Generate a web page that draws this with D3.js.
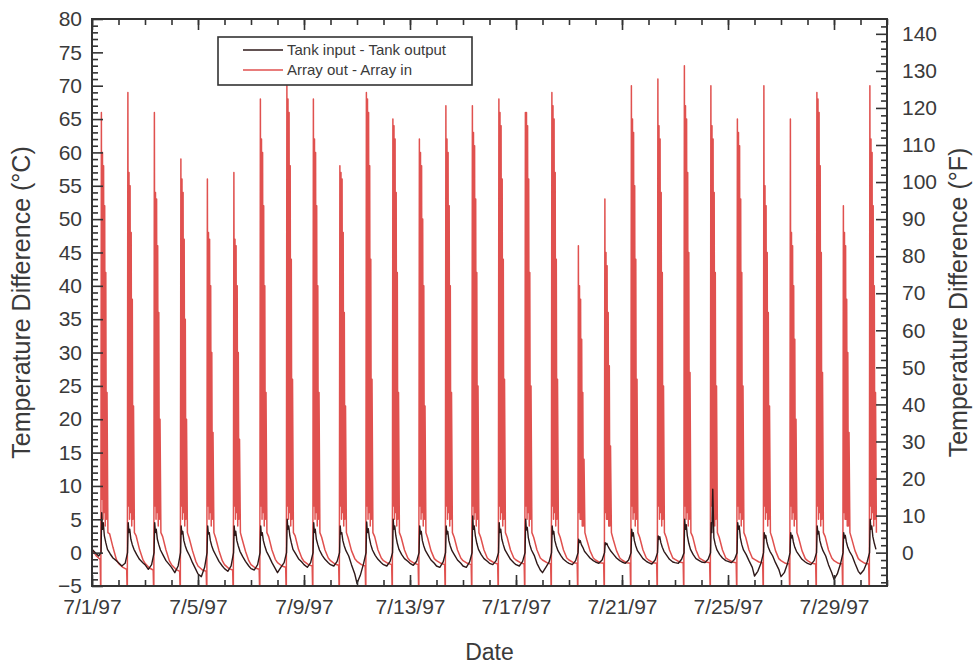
<!DOCTYPE html>
<html><head><meta charset="utf-8">
<script src="https://cdn.jsdelivr.net/npm/d3@7"></script>
<style>
body{margin:0;background:#fff}
svg{display:block}
text{font-family:"Liberation Sans",Arial,Helvetica,sans-serif}
</style>
</head><body>
<svg id="chart" width="976" height="664"></svg>
<script>
// ---------------- DATA ----------------
const dayDates = ["1997-07-01","1997-07-02","1997-07-03","1997-07-04","1997-07-05","1997-07-06","1997-07-07","1997-07-08","1997-07-09","1997-07-10",
  "1997-07-11","1997-07-12","1997-07-13","1997-07-14","1997-07-15","1997-07-16","1997-07-17","1997-07-18","1997-07-19","1997-07-20",
  "1997-07-21","1997-07-22","1997-07-23","1997-07-24","1997-07-25","1997-07-26","1997-07-27","1997-07-28","1997-07-29","1997-07-30"];

const dateTickLabels = ["7/1/97","7/5/97","7/9/97","7/13/97","7/17/97","7/21/97","7/25/97","7/29/97"];
const celsiusTicks = [-5,0,5,10,15,20,25,30,35,40,45,50,55,60,65,70,75,80];
const fahrenheitTicks = [0,10,20,30,40,50,60,70,80,90,100,110,120,130,140];
const seriesNames = ["Tank input - Tank output","Array out - Array in"];

// hour-of-day of each reading in a daily row
const arrayHours = [0, 4, 7.4, 8.0, 8.5, 9.0, 9.5, 10.0, 10.5, 11.0, 11.5, 12.0, 12.5, 13.0, 13.6, 14.4, 16, 19, 22];
// Array out - Array in (°C), one row per day
const arrayDiff = [
  [0.5,-0.5,-1.0,-7,66,8,60,5,58,6,52,4,42,5,24,3,2.8,0.8,-1.0],
  [-1.6,-2.2,-2.5,-7,69,7,57,5,55,6,48,4,38,5,22,3,2.5,0.5,-1.0],
  [-1.6,-2.3,-2.6,-7,66,7,54,5,53,6,46,4,36,5,20,3,2.4,0.4,-1.2],
  [-1.8,-2.5,-2.8,-7,59,7,56,5,54,6,47,4,35,5,20,3,2.2,0.3,-1.3],
  [-2.0,-2.6,-2.8,-7,56,7,48,5,47,6,40,4,30,5,18,3,2.2,0.3,-1.2],
  [-1.8,-2.4,-2.6,-7,57,7,47,5,46,6,40,4,30,5,17,3,2.0,0.2,-1.2],
  [-1.8,-2.3,-2.5,-7,68,7,62,5,60,6,52,4,40,5,24,3,2.4,0.4,-1.0],
  [-1.5,-2.0,-2.2,-7,70,7,68,5,66,6,58,4,44,5,26,3,2.5,0.5,-0.8],
  [-1.3,-1.8,-2.0,-7,68,7,62,5,60,6,52,4,40,5,24,3,2.3,0.4,-0.8],
  [-1.2,-1.7,-1.9,-7,58,7,57,5,56,6,48,4,36,5,22,3,2.2,0.3,-0.9],
  [-1.3,-1.8,-2.0,-7,69,7,68,5,66,6,58,4,44,5,26,3,2.4,0.4,-0.8],
  [-1.2,-1.6,-1.8,-7,65,7,64,5,62,6,54,4,42,5,24,3,2.3,0.4,-0.8],
  [-1.2,-1.6,-1.8,-7,62,7,60,5,58,6,50,4,40,5,22,3,2.2,0.3,-0.9],
  [-1.2,-1.6,-1.8,-7,67,7,62,5,60,6,52,4,40,5,24,3,2.3,0.4,-0.8],
  [-1.2,-1.6,-1.8,-7,67,7,63,5,61,6,53,4,42,5,25,3,2.3,0.4,-0.8],
  [-1.1,-1.5,-1.7,-7,68,7,66,5,64,6,56,4,44,5,26,3,2.3,0.4,-0.8],
  [-1.1,-1.5,-1.7,-7,66,7,66,5,64,6,56,4,42,5,25,3,2.3,0.4,-0.8],
  [-1.1,-1.5,-1.7,-7,69,7,67,5,65,6,57,4,44,5,26,3,2.3,0.4,-0.8],
  [-1.1,-1.5,-1.6,-7,46,6,40,5,38,5,32,4,24,4,14,3,2.0,0.3,-0.8],
  [-1.1,-1.5,-1.6,-7,53,6,45,5,43,5,36,4,28,4,16,3,2.0,0.3,-0.8],
  [-1.1,-1.5,-1.6,-7,70,7,65,5,63,6,55,4,44,5,26,3,2.3,0.4,-0.8],
  [-1.1,-1.5,-1.6,-7,71,7,64,5,62,6,54,4,42,5,25,3,2.3,0.4,-0.8],
  [-1.0,-1.4,-1.5,-7,73,7,67,5,65,6,57,4,45,5,27,3,2.4,0.4,-0.8],
  [-1.0,-1.4,-1.5,-7,70,7,64,5,62,6,54,4,42,5,25,3,2.3,0.4,-0.8],
  [-1.0,-1.4,-1.5,-7,65,7,63,5,61,6,53,4,42,5,25,3,2.3,0.4,-0.8],
  [-1.0,-1.4,-1.5,-7,70,7,55,5,52,6,45,4,36,5,22,3,2.2,0.3,-0.9],
  [-1.2,-1.6,-1.7,-7,65,7,48,5,46,6,40,4,32,5,20,3,2.2,0.3,-0.9],
  [-1.2,-1.6,-1.7,-7,69,7,68,5,66,6,58,4,45,5,27,3,2.4,0.4,-0.8],
  [-1.2,-1.6,-1.7,-7,52,6,48,5,46,5,38,4,30,4,18,3,2.1,0.3,-0.9],
  [-1.2,-1.6,-1.7,-7,70,7,62,5,60,6,52,4,40,5,24,3]
];

const tankHours = [0, 3, 6, 8.2, 8.8, 9.4, 10.2, 11.2, 12.5, 14, 16.5, 19, 22];
// Tank input - Tank output (°C), one row per day
const tankDiff = [
  [0.5,0,-0.5,0,6,3.5,4.5,2.5,1.5,0.5,-0.2,-0.8,-1.2],
  [-1.5,-2.0,-1.6,0,4.5,3,3.5,2,1.2,0.5,-0.3,-1.0,-1.5],
  [-1.8,-2.5,-1.8,0,4.5,3,3.5,2,1.2,0.4,-0.4,-1.2,-1.8],
  [-2.2,-3.0,-2.0,0,4,2.8,3.2,1.8,1.0,0.3,-0.5,-1.5,-2.5],
  [-3.2,-3.6,-2.2,0,4,2.8,3.0,1.8,1.0,0.3,-0.5,-1.3,-2.0],
  [-2.4,-2.8,-2.0,0,4,2.6,3.2,1.8,1.0,0.2,-0.6,-1.3,-2.0],
  [-2.4,-2.6,-1.8,0,4,2.6,3.0,1.8,1.0,0.2,-0.6,-1.5,-2.4],
  [-3.0,-2.2,-1.5,0,5,3.5,4.0,2.5,1.5,0.5,-0.2,-0.9,-1.4],
  [-1.8,-2.2,-1.5,0,4.5,3.0,3.5,2.0,1.2,0.4,-0.4,-1.0,-1.5],
  [-1.8,-2.0,-1.3,0,4,2.8,3.0,1.8,1.0,0.3,-0.5,-1.8,-3.2],
  [-4.6,-3.4,-1.6,0,4.6,3.0,3.6,2.2,1.2,0.4,-0.4,-1.0,-1.5],
  [-1.8,-2.0,-1.3,0,5,3.5,4.0,2.5,1.4,0.5,-0.3,-0.9,-1.3],
  [-1.6,-1.9,-1.3,0,4,2.8,3.2,1.8,1.0,0.3,-0.4,-1.1,-1.6],
  [-2.0,-2.2,-1.4,0,4,2.8,3.2,1.8,1.0,0.3,-0.4,-1.1,-1.6],
  [-2.0,-2.2,-1.4,0,5.5,3.5,4.0,2.5,1.4,0.5,-0.3,-0.9,-1.3],
  [-1.6,-1.8,-1.2,0,4.5,3.0,3.5,2.0,1.2,0.4,-0.3,-1.0,-1.5],
  [-1.8,-2.0,-1.3,0,5,3.4,3.8,2.2,1.2,0.4,-0.4,-1.6,-2.6],
  [-3.0,-2.2,-1.4,0,4,2.8,3.2,1.8,1.0,0.3,-0.4,-1.0,-1.4],
  [-1.6,-1.8,-1.2,0,2,1.5,1.8,1.2,0.8,0.2,-0.3,-0.8,-1.2],
  [-1.4,-1.6,-1.1,0,1.5,1.2,1.4,1.0,0.6,0.2,-0.3,-0.8,-1.2],
  [-1.4,-1.6,-1.1,0,3.5,2.5,3.0,1.8,1.0,0.3,-0.3,-0.9,-1.3],
  [-1.5,-1.7,-1.1,0,2.5,2.0,2.4,1.5,0.8,0.2,-0.4,-1.0,-1.4],
  [-1.5,-1.6,-1.0,0,5,3.5,4.2,2.5,1.4,0.5,-0.3,-0.9,-1.2],
  [-1.4,-1.5,-1.0,0,4.5,3.0,9.5,2.2,1.2,0.4,-0.3,-0.8,-1.2],
  [-1.3,-1.5,-1.0,0,4.5,3.5,4.0,2.2,1.2,0.4,-0.3,-1.2,-2.2],
  [-3.5,-2.8,-1.5,0,3,2.2,2.6,1.6,0.8,0.2,-0.5,-1.5,-2.5],
  [-3.6,-3.0,-1.6,0,3,2.2,2.6,1.6,0.8,0.2,-0.4,-1.0,-1.4],
  [-1.6,-1.8,-1.2,0,4,2.8,3.2,1.8,1.0,0.3,-0.5,-1.8,-3.0],
  [-4.0,-3.2,-1.6,0,3,2.2,2.6,1.6,0.8,0.2,-0.5,-1.6,-2.8],
  [-3.2,-2.6,-1.4,0,5,3.5,4.0,2.4,1.4,0.5]
];

// ---------------- CHART ----------------
const L = 92, R = 887, T = 19, B = 586;
const svg = d3.select("#chart");
const parseDay = d3.timeParse("%Y-%m-%d");
const HOUR = 3600 * 1000;

function buildSeries(hours, rows) {
  const pts = [];
  rows.forEach((row, i) => {
    const base = parseDay(dayDates[i]).getTime();
    row.forEach((v, j) => pts.push({t: new Date(base + hours[j] * HOUR), v: v}));
  });
  return pts;
}
const arraySeries = buildSeries(arrayHours, arrayDiff);
const tankSeries = buildSeries(tankHours, tankDiff);

const x = d3.scaleTime().domain([new Date(1997, 6, 1), new Date(1997, 6, 31)]).range([L, R]);
const yC = d3.scaleLinear().domain([-5, 80]).range([B, T]);
const yF = d3.scaleLinear().domain([-9, 144]).range([B, T]);

svg.append("defs").append("clipPath").attr("id", "plotClip")
  .append("rect").attr("x", L).attr("y", T).attr("width", R - L).attr("height", B - T);

const line = d3.line().x(d => x(d.t)).y(d => yC(d.v));
const plot = svg.append("g").attr("clip-path", "url(#plotClip)");
const colorArray = "#e0514f", colorTank = "#2e1818";
plot.append("path").datum(arraySeries).attr("d", line)
  .attr("fill", "none").attr("stroke", colorArray).attr("stroke-width", 1.5).attr("stroke-linejoin", "round");
plot.append("path").datum(tankSeries).attr("d", line)
  .attr("fill", "none").attr("stroke", colorTank).attr("stroke-width", 1.4).attr("stroke-linejoin", "round");

// axes
const axisColor = "#333";
const labelColor = "#3a3a3a";
function styleAxis(g) {
  g.select(".domain").remove();
  g.selectAll(".tick line").attr("stroke", axisColor).attr("stroke-width", 1.6);
  g.selectAll(".tick text").attr("fill", labelColor).attr("font-size", 21)
    .attr("font-family", '"Liberation Sans",Arial,sans-serif');
}
const minorC = d3.range(-5, 81, 1).filter(v => v % 5 !== 0);
const minorF = d3.range(-8, 143, 2).filter(v => v % 10 !== 0);
const allDays = d3.range(0, 31).map(i => new Date(1997, 6, 1 + i));
const majorDates = dateTickLabels.map(s => { const p = s.split("/"); return new Date(1900 + +p[2], +p[0] - 1, +p[1]); });

svg.append("g").attr("transform", `translate(${L},0)`)
  .call(d3.axisLeft(yC).tickValues(minorC).tickSize(-6).tickFormat("")).call(styleAxis);
svg.append("g").attr("transform", `translate(${L},0)`)
  .call(d3.axisLeft(yC).tickValues(celsiusTicks).tickSize(-11).tickPadding(10).tickFormat(d3.format("d"))).call(styleAxis);

svg.append("g").attr("transform", `translate(${R},0)`)
  .call(d3.axisRight(yF).tickValues(minorF).tickSize(-6).tickFormat("")).call(styleAxis);
svg.append("g").attr("transform", `translate(${R},0)`)
  .call(d3.axisRight(yF).tickValues(fahrenheitTicks).tickSize(-11).tickPadding(15).tickFormat(d3.format("d"))).call(styleAxis);

svg.append("g").attr("transform", `translate(0,${B})`)
  .call(d3.axisBottom(x).tickValues(allDays).tickSize(-6).tickFormat("")).call(styleAxis);
svg.append("g").attr("transform", `translate(0,${B})`)
  .call(d3.axisBottom(x).tickValues(majorDates).tickSize(-11).tickPadding(13)
    .tickFormat((d, i) => dateTickLabels[i])).call(styleAxis);

svg.append("g").attr("transform", `translate(0,${T})`)
  .call(d3.axisTop(x).tickValues(allDays).tickSize(-6).tickFormat("")).call(styleAxis);
svg.append("g").attr("transform", `translate(0,${T})`)
  .call(d3.axisTop(x).tickValues(majorDates).tickSize(-11).tickFormat("")).call(styleAxis);

// frame
svg.append("rect").attr("x", L).attr("y", T).attr("width", R - L).attr("height", B - T)
  .attr("fill", "none").attr("stroke", axisColor).attr("stroke-width", 2);

// titles
svg.append("text").attr("transform", `translate(30,${(T + B) / 2}) rotate(-90)`)
  .attr("text-anchor", "middle").attr("font-size", 25).attr("fill", labelColor)
  .text("Temperature Difference (°C)");
svg.append("text").attr("transform", `translate(967,${(T + B) / 2}) rotate(-90)`)
  .attr("text-anchor", "middle").attr("font-size", 25).attr("fill", labelColor)
  .text("Temperature Difference (°F)");
svg.append("text").attr("x", (L + R) / 2).attr("y", 660)
  .attr("text-anchor", "middle").attr("font-size", 23).attr("fill", labelColor).text("Date");

// legend
const lg = svg.append("g");
lg.append("rect").attr("x", 218).attr("y", 37).attr("width", 254).attr("height", 48)
  .attr("fill", "#fff").attr("stroke", axisColor).attr("stroke-width", 1.6);
[colorTank, colorArray].forEach((c, i) => {
  const yy = 50 + i * 20;
  lg.append("line").attr("x1", 243).attr("x2", 283).attr("y1", yy).attr("y2", yy)
    .attr("stroke", c).attr("stroke-width", 1.5);
  lg.append("text").attr("x", 287).attr("y", yy + 5).attr("font-size", 15)
    .attr("fill", labelColor).text(seriesNames[i]);
});
</script>
</body></html>
